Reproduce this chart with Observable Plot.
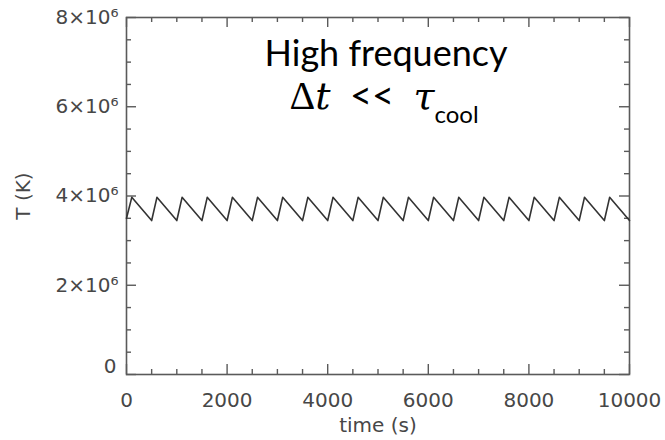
<!DOCTYPE html>
<html><head><meta charset="utf-8">
<script src="https://cdn.jsdelivr.net/npm/d3@7"></script>
<script src="https://cdn.jsdelivr.net/npm/@observablehq/plot@0.6"></script>
<style>body{margin:0;background:#fff}</style>
</head><body><div id="chart"></div>
<script>
// ---- data ----
const times = [0,105,500,605,1000,1105,1500,1605,2000,2105,2500,2605,3000,3105,3500,3605,4000,4105,4500,4605,5000,5105,5500,5605,6000,6105,6500,6605,7000,7105,7500,7605,8000,8105,8500,8605,9000,9105,9500,9605,10000];
const temps = [3.50e6,
  3.97e6,3.45e6, 3.97e6,3.45e6, 3.97e6,3.45e6, 3.97e6,3.45e6, 3.97e6,3.45e6,
  3.97e6,3.45e6, 3.97e6,3.45e6, 3.97e6,3.45e6, 3.97e6,3.45e6, 3.97e6,3.45e6,
  3.97e6,3.45e6, 3.97e6,3.45e6, 3.97e6,3.45e6, 3.97e6,3.45e6, 3.97e6,3.45e6,
  3.97e6,3.45e6, 3.97e6,3.45e6, 3.97e6,3.45e6, 3.97e6,3.45e6, 3.97e6,3.45e6];
const xTicks = [0,2000,4000,6000,8000,10000];
const xTickLabels = ["0","2000","4000","6000","8000","10000"];
const xMinorTicks = [500,1000,1500,2500,3000,3500,4500,5000,5500,6500,7000,7500,8500,9000,9500];
const yTicks = [0,2e6,4e6,6e6,8e6];
const yTickLabels = ["0","2×10⁶","4×10⁶","6×10⁶","8×10⁶"];
const yMinorTicks = [5e5,1e6,1.5e6,2.5e6,3e6,3.5e6,4.5e6,5e6,5.5e6,6.5e6,7e6,7.5e6];
const xLabel = "time (s)";
const yLabel = "T (K)";
const annot1 = "High frequency";
const annot2 = "Δt << τcool";

// ---- layout ----
const W = 665, H = 440, mL = 126, mR = 36, mT = 17, mB = 66;
const fw = W - mL - mR, fh = H - mT - mB;
const majorLen = 10, minorLen = 5;
const axisCol = "#5a5a5a";
const textCol = "#474747";

const data = times.map((t, i) => ({t, T: temps[i]}));
const yFmt = d => yTickLabels[yTicks.indexOf(d)];

const plot = Plot.plot({
  width: W, height: H,
  marginLeft: mL, marginRight: mR, marginTop: mT, marginBottom: mB,
  style: {fontFamily: "DejaVu Sans", fontSize: "20px", color: textCol, background: "#fff"},
  x: {domain: [0, 10000], axis: null},
  y: {domain: [0, 8e6], axis: null},
  marks: [
    Plot.axisX({ticks: xTicks, tickFormat: d => xTickLabels[xTicks.indexOf(d)], tickSize: 0, tickPadding: 18, label: null, fontSize: 20}),
    Plot.axisY({ticks: yTicks.filter(d => d !== 0), tickFormat: yFmt, tickSize: 0, tickPadding: 8, label: null, fontSize: 20}),
    Plot.axisY({ticks: yTicks.filter(d => d === 0), tickFormat: yFmt, tickSize: 0, tickPadding: 10, dy: -8, label: null, fontSize: 20}),
    // inward ticks on all four sides
    Plot.tickY(yTicks, {y: d => d, insetRight: fw - majorLen, stroke: axisCol, strokeWidth: 1.4}),
    Plot.tickY(yTicks, {y: d => d, insetLeft: fw - majorLen, stroke: axisCol, strokeWidth: 1.4}),
    Plot.tickY(yMinorTicks, {y: d => d, insetRight: fw - minorLen, stroke: axisCol, strokeWidth: 1.4}),
    Plot.tickY(yMinorTicks, {y: d => d, insetLeft: fw - minorLen, stroke: axisCol, strokeWidth: 1.4}),
    Plot.tickX(xTicks, {x: d => d, insetTop: fh - majorLen, stroke: axisCol, strokeWidth: 1.4}),
    Plot.tickX(xTicks, {x: d => d, insetBottom: fh - majorLen, stroke: axisCol, strokeWidth: 1.4}),
    Plot.tickX(xMinorTicks, {x: d => d, insetTop: fh - minorLen, stroke: axisCol, strokeWidth: 1.4}),
    Plot.tickX(xMinorTicks, {x: d => d, insetBottom: fh - minorLen, stroke: axisCol, strokeWidth: 1.4}),
    Plot.frame({stroke: axisCol, strokeWidth: 1.6}),
    Plot.line(data, {x: "t", y: "T", stroke: "#333", strokeWidth: 1.6}),
    // axis titles
    Plot.text([xLabel], {frameAnchor: "bottom", dy: 57, lineAnchor: "bottom", text: d => d, fontSize: 20, fill: textCol}),
    Plot.text([yLabel], {frameAnchor: "left", textAnchor: "middle", dx: -103, rotate: -90, text: d => d, fontSize: 20, fill: textCol}),
    // annotations
    Plot.text([annot1], {frameAnchor: "top", dx: 8, dy: 48, lineAnchor: "bottom", text: d => d, fontSize: 36, fontFamily: "Lato", fill: "#000"}),
    Plot.text([annot2], {frameAnchor: "top", dx: 6, dy: 91, lineAnchor: "bottom", text: d => d, fontSize: 40, fontFamily: "Lato", fill: "#000"})
  ]
});

// rich formatting for the second annotation line
for (const t of plot.querySelectorAll("text")) {
  if (t.textContent === annot2) {
    const parts = [
      {s: "Δ", font: "Liberation Serif", style: "normal", size: 40},
      {s: "t", font: "DejaVu Serif", style: "italic", size: 38},
      {s: "\u00a0 <<\u00a0 ", font: "Lato", style: "normal", size: 38},
      {s: "τ", font: "DejaVu Serif", style: "italic", size: 38},
      {s: "cool", font: "Lato", style: "normal", size: 24, dy: 14}
    ];
    t.textContent = "";
    for (const p of parts) {
      const ts = document.createElementNS("http://www.w3.org/2000/svg", "tspan");
      ts.textContent = p.s;
      ts.setAttribute("font-family", p.font);
      ts.setAttribute("font-style", p.style);
      ts.setAttribute("font-size", p.size);
      if (p.dy) ts.setAttribute("dy", p.dy);
      t.appendChild(ts);
    }
  }
}
document.getElementById("chart").appendChild(plot);
</script>
</body></html>
